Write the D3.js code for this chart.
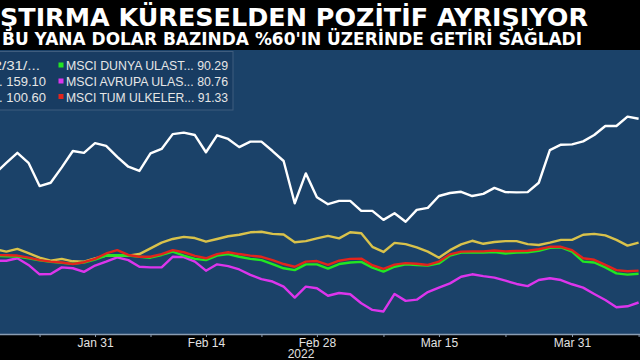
<!DOCTYPE html>
<html><head><meta charset="utf-8">
<script src="https://cdn.jsdelivr.net/npm/d3@7"></script>
<style>body{margin:0;background:#000}svg{display:block}</style>
</head><body>
<svg id="c" width="640" height="360"></svg>
<script>
const dates = [
 "2022-01-18","2022-01-19","2022-01-20","2022-01-21","2022-01-24","2022-01-25","2022-01-26","2022-01-27","2022-01-28",
 "2022-01-31","2022-02-01","2022-02-02","2022-02-03","2022-02-04","2022-02-07","2022-02-08","2022-02-09","2022-02-10","2022-02-11",
 "2022-02-14","2022-02-15","2022-02-16","2022-02-17","2022-02-18","2022-02-21","2022-02-22","2022-02-23","2022-02-24","2022-02-25",
 "2022-02-28","2022-03-01","2022-03-02","2022-03-03","2022-03-04","2022-03-07","2022-03-08","2022-03-09","2022-03-10","2022-03-11",
 "2022-03-14","2022-03-15","2022-03-16","2022-03-17","2022-03-18","2022-03-21","2022-03-22","2022-03-23","2022-03-24","2022-03-25",
 "2022-03-28","2022-03-29","2022-03-30","2022-03-31","2022-04-01","2022-04-04","2022-04-05","2022-04-06","2022-04-07","2022-04-08"
];
// White series (own scale)
const bist = [141.0,144.5,147.8,144.5,136.8,137.9,143.0,148.4,147.8,
 151.0,150.1,146.5,143.2,141.8,147.6,149.1,154.0,154.5,153.7,
 148.0,153.6,152.4,149.7,151.5,151.5,148.4,145.1,131.1,141.0,
 133.1,130.8,131.9,131.9,128.6,128.6,125.6,127.8,125.0,128.9,
 129.6,133.5,134.5,134.9,133.5,134.2,136.2,134.8,134.7,134.8,
 137.9,148.7,150.5,150.6,151.6,153.7,156.7,156.7,159.8,159.1];
// Yellow series
const gelismekte = [98.4,97.6,98.5,97.1,95.6,94.6,95.2,94.4,94.3,
 95.4,96.3,96.3,96.3,96.8,98.7,100.6,101.8,102.5,102.1,
 100.9,101.8,102.7,103.2,104.0,104.2,103.5,103.3,100.7,101.1,
 102.0,102.8,102.0,104.0,103.7,99.2,97.5,100.5,100.1,99.0,
 97.6,95.6,98.1,100.0,101.2,100.2,100.8,101.1,101.1,100.1,
 99.8,100.6,101.5,101.5,103.2,103.5,103.0,101.5,99.6,100.6];
// Green
const dunya = [96.2,96.1,96.0,95.4,94.7,94.2,93.9,93.6,94.0,
 95.0,96.3,96.4,96.3,95.9,95.6,96.5,97.6,96.3,95.2,
 94.8,96.3,96.8,95.9,95.2,94.8,93.5,92.1,91.5,93.4,
 93.4,92.0,93.5,94.0,94.2,92.3,91.0,92.6,93.4,93.2,
 93.0,93.7,96.3,97.3,97.3,97.3,97.5,97.0,97.3,97.4,
 97.9,98.9,99.0,97.6,94.3,94.0,92.4,90.4,90.0,90.29];
// Magenta
const avrupa = [94.6,94.6,95.4,93.2,90.1,90.2,92.4,92.1,90.9,
 93.0,94.3,95.7,94.8,92.6,92.4,92.4,95.9,95.8,94.3,
 91.3,93.4,92.8,91.7,89.9,88.5,87.7,86.0,82.4,86.0,
 85.5,83.0,83.9,83.5,80.5,78.3,77.8,83.6,81.3,81.7,
 84.2,85.7,87.1,89.3,90.1,89.5,89.0,88.0,86.9,86.2,
 88.2,88.8,88.2,86.8,85.7,83.6,81.6,79.2,79.5,80.76];
// Red
const tum = [96.5,96.4,96.3,95.6,94.8,94.3,94.0,93.5,94.1,
 95.2,97.0,98.1,96.5,95.9,95.9,96.8,98.1,97.4,96.2,
 95.4,96.8,97.4,96.8,96.3,95.9,94.8,93.5,92.6,94.3,
 94.5,93.2,94.6,95.2,95.3,93.1,91.9,93.3,93.8,93.6,
 93.2,94.3,96.7,97.6,97.7,97.7,98.0,97.7,97.8,97.9,
 98.4,99.2,99.2,98.1,95.4,94.9,93.2,91.5,91.1,91.33];

const tickDates = ["2022-01-24","2022-01-31","2022-02-07","2022-02-14","2022-02-21","2022-02-28","2022-03-08","2022-03-15","2022-03-23","2022-03-31","2022-04-08"];
const labelDates = ["2022-01-31","2022-02-14","2022-02-28","2022-03-15","2022-03-31"];
const labelText = ["Jan 31","Feb 14","Feb 28","Mar 15","Mar 31"];

const legendHeader = "12/31/...";
const legendCol1Labels = ["BIST 100 ENDEKSI...","MSCI GELISMEKTE..."];
const legendCol1Values = ["159.10", "100.60"];
const legendCol2Labels = ["MSCI DUNYA ULAST...","MSCI AVRUPA ULAS...","MSCI TUM ULKELER..."];
const legendCol2Values = ["90.29","80.76","91.33"];

const titleText = "ŞTIRMA KÜRESELDEN POZİTİF AYRIŞIYOR";
const subtitleText = "BU YANA DOLAR BAZINDA %60'IN ÜZERİNDE GETİRİ SAĞLADI";

const svg = d3.select("#c");
svg.append("rect").attr("width",640).attr("height",360).attr("fill","#000");
svg.append("rect").attr("x",0).attr("y",50).attr("width",640).attr("height",285).attr("fill","#1b4269");

svg.append("text").attr("x",0).attr("y",26).attr("fill","#fff")
  .attr("font-family","DejaVu Sans").attr("font-weight","bold").attr("font-size",24)
  .attr("textLength",588).attr("lengthAdjust","spacingAndGlyphs").text(titleText);
svg.append("text").attr("x",2).attr("y",45).attr("fill","#fff")
  .attr("font-family","DejaVu Sans").attr("font-weight","bold").attr("font-size",17)
  .attr("textLength",580).attr("lengthAdjust","spacingAndGlyphs").text(subtitleText);

const x = d3.scalePoint().domain(dates).range([-4.8, 638.6]);
const y = d3.scaleLinear().domain([70,110]).range([335,214.2]);
const yW = d3.scaleLinear().domain([120,170]).range([236.8,85.8]);

const series = [
  {v: avrupa, c:"#dc35ec", s:y},
  {v: gelismekte, c:"#d9c24b", s:y},
  {v: dunya, c:"#22e622", s:y},
  {v: tum, c:"#e3241c", s:y},
  {v: bist, c:"#ffffff", s:yW}
];
const g = svg.append("g");
series.forEach(sr => {
  const line = d3.line().x((d,i)=>x(dates[i])).y(d=>sr.s(d));
  g.append("path").datum(sr.v).attr("d",line).attr("fill","none")
   .attr("stroke",sr.c).attr("stroke-width",2.4).attr("stroke-linejoin","round");
});

// axis
const ax = svg.append("g").attr("transform","translate(0,335)");
ax.call(d3.axisBottom(x).tickValues(tickDates).tickSize(2).tickFormat(""));
ax.select(".domain").remove();
ax.selectAll(".tick line").attr("stroke","#8a9db2");
svg.append("line").attr("x1",0).attr("x2",640).attr("y1",334.5).attr("y2",334.5)
  .attr("stroke","#8a9db2").attr("stroke-width",1.5);
const ax2 = svg.append("g").attr("transform","translate(0,335)");
ax2.call(d3.axisBottom(x).tickValues(labelDates).tickSize(0).tickPadding(3)
  .tickFormat(d=>labelText[labelDates.indexOf(d)]));
ax2.select(".domain").remove();
ax2.selectAll("text").attr("fill","#e2e2e2").attr("font-family","Liberation Sans").attr("font-size",12);
svg.append("text").attr("x",301).attr("y",358).attr("text-anchor","middle").attr("fill","#e2e2e2")
  .attr("font-family","Liberation Sans").attr("font-size",12).text("2022");

// legend
svg.append("rect").attr("x",-5).attr("y",51.5).attr("width",238).attr("height",58.5)
  .attr("fill","#183c62").attr("stroke","#3f5d7e").attr("stroke-width",1);
const rowsY = [70,86,101.5];
svg.append("text").attr("x",-15).attr("y",rowsY[0]).attr("fill","#e6e6e6")
  .attr("font-family","Liberation Sans").attr("font-size",13)
  .attr("textLength",55).attr("lengthAdjust","spacingAndGlyphs").text(legendHeader);
legendCol1Labels.forEach((t,i)=>{
  svg.append("text").attr("x",46).attr("y",rowsY[i+1]).attr("text-anchor","end")
    .attr("fill","#e6e6e6").attr("font-family","Liberation Sans").attr("font-size",13)
    .text(t + " " + legendCol1Values[i]);
});
const col2Colors = ["#22e622","#dc35ec","#e3241c"];
legendCol2Labels.forEach((t,i)=>{
  svg.append("rect").attr("x",58.5).attr("y",rowsY[i]-7.5).attr("width",5).attr("height",5).attr("fill",col2Colors[i]);
  svg.append("text").attr("x",66).attr("y",rowsY[i]).attr("fill","#e6e6e6")
    .attr("font-family","Liberation Sans").attr("font-size",13)
    .attr("textLength",162).attr("lengthAdjust","spacingAndGlyphs")
    .text(t + " " + legendCol2Values[i]);
});
</script>
</body></html>
